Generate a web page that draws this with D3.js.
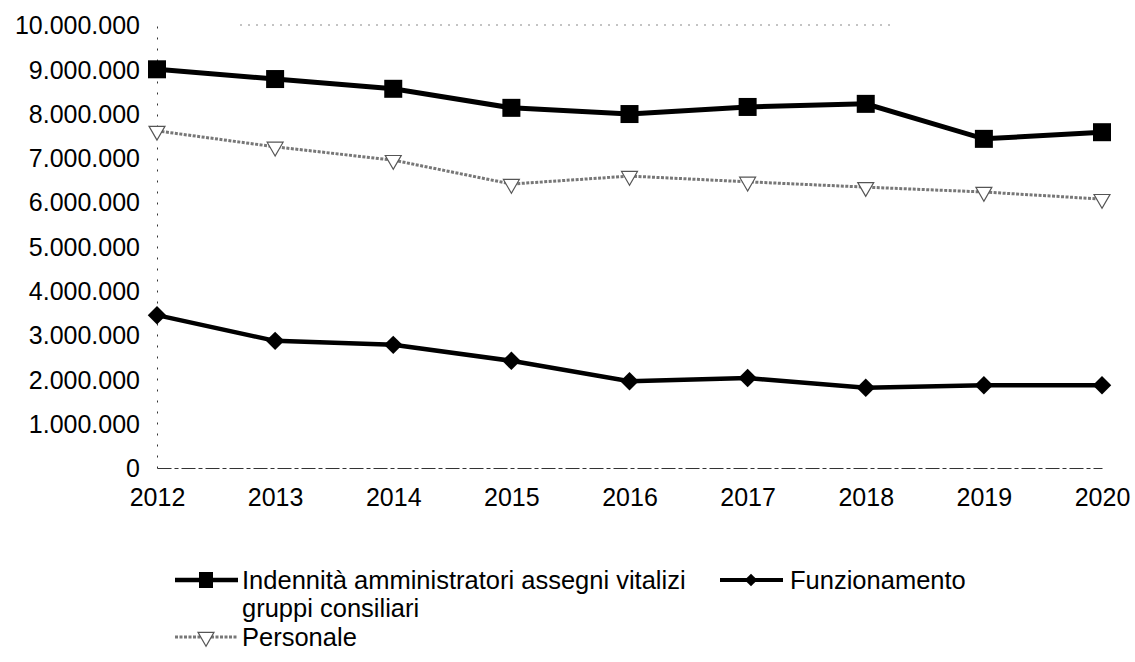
<!DOCTYPE html>
<html>
<head>
<meta charset="utf-8">
<script src="https://cdn.jsdelivr.net/npm/d3@7"></script>
<style>
  body { margin: 0; background: #fff; }
  text { font-family: "Liberation Sans", Arial, sans-serif; fill: #000; }
</style>
</head>
<body>
<div id="chart"></div>
<script>
const years = [2012, 2013, 2014, 2015, 2016, 2017, 2018, 2019, 2020];
const indennita = [9000000, 8780000, 8560000, 8130000, 7990000, 8150000, 8220000, 7430000, 7580000];
const personale = [7610000, 7250000, 6950000, 6410000, 6590000, 6460000, 6340000, 6230000, 6070000];
const funzionamento = [3450000, 2870000, 2780000, 2420000, 1960000, 2030000, 1810000, 1870000, 1870000];
const yTicks = [0, 1000000, 2000000, 3000000, 4000000, 5000000, 6000000, 7000000, 8000000, 9000000, 10000000];

const width = 1135;
const height = 662;

const x = d3.scalePoint().domain(years).range([157, 1102]);
const y = d3.scaleLinear().domain([0, 10000000]).range([468, 25]);

const fmt = d => d3.format(",")(d).replace(/,/g, ".");

const svg = d3.select("#chart").append("svg")
    .attr("width", width)
    .attr("height", height);

// faint top gridline (scan remnant)
svg.append("line")
    .attr("x1", 240).attr("x2", 890)
    .attr("y1", y(10000000)).attr("y2", y(10000000))
    .attr("stroke", "#888").attr("stroke-width", 1)
    .attr("stroke-dasharray", "2,6");

// y axis
const yAxis = svg.append("g")
    .attr("transform", `translate(${x(2012)},0)`)
    .call(d3.axisLeft(y).tickValues(yTicks).tickFormat(fmt).tickSize(0).tickPadding(17));
yAxis.select(".domain").attr("stroke", "#333").attr("stroke-dasharray", "2,9");
yAxis.selectAll("text").attr("font-size", 25).attr("dy", "0.35em");

// x axis
const xAxis = svg.append("g")
    .attr("transform", `translate(0,${y(0)})`)
    .call(d3.axisBottom(x).tickSize(0).tickPadding(20));
xAxis.select(".domain").attr("stroke", "#333").attr("stroke-width", 1.2).attr("stroke-dasharray", "14,3,4,3");
xAxis.selectAll("text").attr("font-size", 25);

const line = d3.line().x((d, i) => x(years[i])).y(d => y(d));

// Personale
svg.append("path")
    .datum(personale)
    .attr("fill", "none")
    .attr("stroke", "#777")
    .attr("stroke-width", 3)
    .attr("stroke-dasharray", "3,1.5")
    .attr("d", line);
const tri = d3.symbol().type(d3.symbolTriangle).size(110);
svg.append("g").selectAll("path")
    .data(personale)
    .join("path")
    .attr("d", tri)
    .attr("transform", (d, i) => `translate(${x(years[i])},${y(d)}) rotate(180)`)
    .attr("fill", "#fff")
    .attr("stroke", "#555")
    .attr("stroke-width", 1.2);

// Indennità
svg.append("path")
    .datum(indennita)
    .attr("fill", "none")
    .attr("stroke", "#000")
    .attr("stroke-width", 5)
    .attr("d", line);
svg.append("g").selectAll("rect")
    .data(indennita)
    .join("rect")
    .attr("x", (d, i) => x(years[i]) - 9)
    .attr("y", d => y(d) - 9)
    .attr("width", 18).attr("height", 18)
    .attr("fill", "#000");

// Funzionamento
svg.append("path")
    .datum(funzionamento)
    .attr("fill", "none")
    .attr("stroke", "#000")
    .attr("stroke-width", 4.5)
    .attr("d", line);
const diamond = d3.symbol().type(d3.symbolSquare).size(170);
svg.append("g").selectAll("path")
    .data(funzionamento)
    .join("path")
    .attr("d", diamond)
    .attr("transform", (d, i) => `translate(${x(years[i])},${y(d)}) rotate(45)`)
    .attr("fill", "#000");

// legend
const legend = svg.append("g");
function legendLine(x0, yy, kind) {
    const g = legend.append("g");
    if (kind === "personale") {
        g.append("line").attr("x1", x0).attr("x2", x0 + 63).attr("y1", yy).attr("y2", yy)
            .attr("stroke", "#777").attr("stroke-width", 3).attr("stroke-dasharray", "3,1.5");
        g.append("path").attr("d", tri).attr("transform", `translate(${x0 + 31},${yy}) rotate(180)`)
            .attr("fill", "#fff").attr("stroke", "#555").attr("stroke-width", 1.2);
    } else if (kind === "indennita") {
        g.append("line").attr("x1", x0).attr("x2", x0 + 63).attr("y1", yy).attr("y2", yy)
            .attr("stroke", "#000").attr("stroke-width", 4.5);
        g.append("rect").attr("x", x0 + 24).attr("y", yy - 8).attr("width", 14).attr("height", 16).attr("fill", "#000");
    } else {
        g.append("line").attr("x1", x0).attr("x2", x0 + 63).attr("y1", yy).attr("y2", yy)
            .attr("stroke", "#000").attr("stroke-width", 4);
        g.append("path").attr("d", d3.symbol().type(d3.symbolSquare).size(80))
            .attr("transform", `translate(${x0 + 31},${yy}) rotate(45)`).attr("fill", "#000");
    }
}
const legendFont = 25.5;
legendLine(175, 580, "indennita");
legend.append("text").attr("x", 242).attr("y", 580).attr("dy", "0.35em").attr("font-size", legendFont)
    .text("Indennità amministratori assegni vitalizi");
legend.append("text").attr("x", 242).attr("y", 608).attr("dy", "0.35em").attr("font-size", legendFont)
    .text("gruppi consiliari");
legendLine(720, 580, "funzionamento");
legend.append("text").attr("x", 790).attr("y", 580).attr("dy", "0.35em").attr("font-size", legendFont)
    .text("Funzionamento");
legendLine(175, 637, "personale");
legend.append("text").attr("x", 242).attr("y", 637).attr("dy", "0.35em").attr("font-size", legendFont)
    .text("Personale");
</script>
</body>
</html>
